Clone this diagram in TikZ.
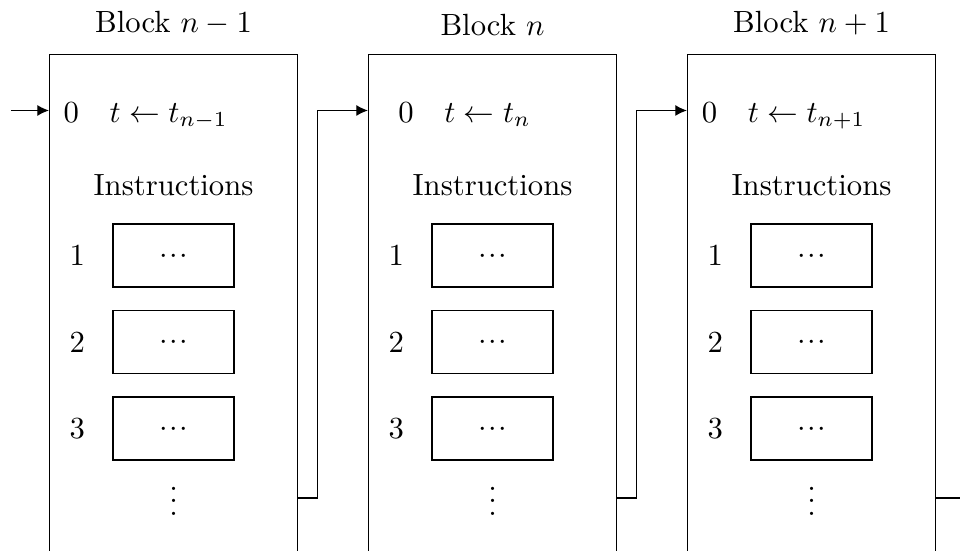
\documentclass[tikz,border=0pt]{standalone}
\usetikzlibrary{positioning,arrows.meta}

\tikzset{
  blk/.style={draw, anchor=north west, inner sep=0pt, minimum width=2.841cm, minimum height=6.4cm},
  instr/.style={draw, minimum width=1.386cm, minimum height=0.722cm, text height=5pt, text depth=0pt},
  link/.style={-{Latex[length=3.8pt,width=3.6pt]}},
}
\newcommand{\tdots}{${\cdot}\mkern1mu{\cdot}\mkern1mu{\cdot}$}

\begin{document}
\begin{tikzpicture}
  \clip (0,0) rectangle (11,-6.313);

  \foreach \i/\lab in {1/n-1, 2/n, 3/n+1} {
    \node[blk, label={[label distance=2.5pt]above:{Block $\lab$}}] (b\i) at ({0.561+3.655*(\i-1)},-0.619) {};
    \node[anchor=base] (r\i) at ([shift={(-0.32,-0.779)}]b\i.north) {$0\quad t\gets t_{\lab}$};
    \node[anchor=base] (ins\i) at ([yshift=-1.616cm]b\i.north) {Instructions};
    \foreach \k in {1,2,3} {
      \node[instr] (bx\i-\k) at ([yshift={-2.308cm-0.991cm*(\k-1)}]b\i.north) {\tdots};
      \node[left=0.19cm of bx\i-\k] (num\i-\k) {\k};
    }
    \node (dots\i) at ([yshift=-5.02cm]b\i.north) {$\vdots$};
    \coordinate (o\i) at ([yshift=-5.087cm]b\i.north east);
  }

  \coordinate (start) at (0.126,-1.266);
  \coordinate (exit) at ([xshift=0.5cm]o3);

  \draw[link] (start) -- ([yshift=-0.647cm]b1.north west);
  \foreach \i/\j in {1/2, 2/3}
    \draw[link] (o\i) -- ++(0.218,0) |- ([yshift=-0.647cm]b\j.north west);
  \draw (o3) -- (exit);
\end{tikzpicture}
\end{document}
